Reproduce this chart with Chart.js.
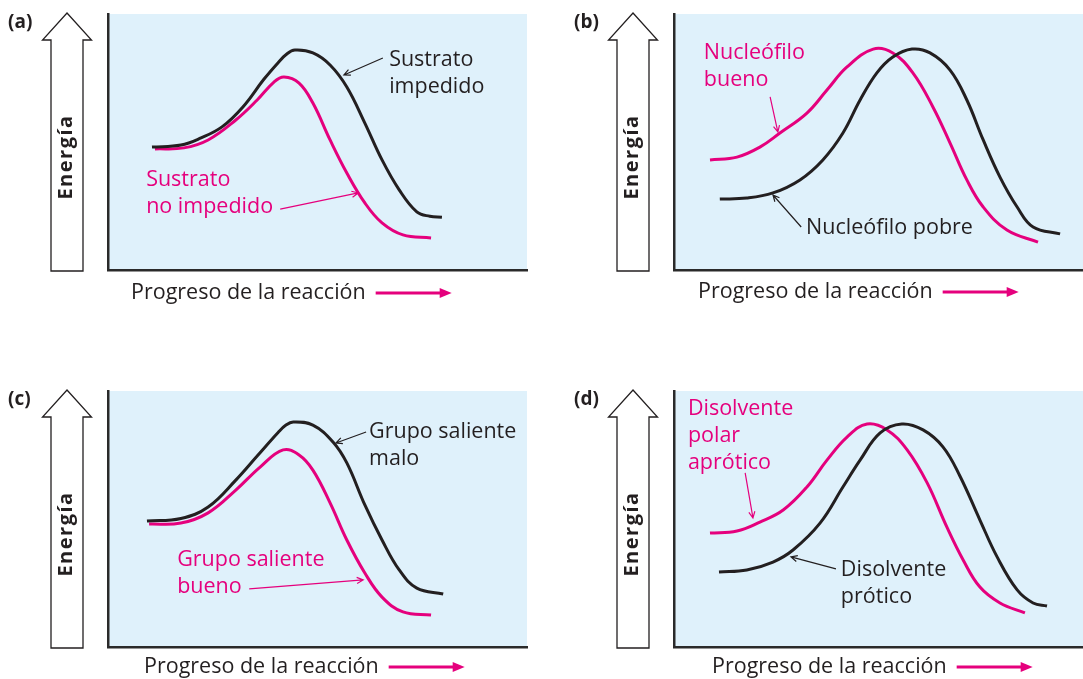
<!DOCTYPE html>
<html>
<head>
<meta charset="utf-8">
<script src="https://cdn.jsdelivr.net/npm/chart.js@4.4.1/dist/chart.umd.min.js"></script>
<style>
html, body { margin: 0; padding: 0; background: #fff; }
#wrap { position: relative; width: 1083px; height: 679px; }
.panel { position: absolute; }
</style>
</head>
<body>
<div id="wrap">
  <div class="panel" style="left:0;top:0;width:541px;height:339px"><canvas id="chartA"></canvas></div>
  <div class="panel" style="left:541px;top:0;width:542px;height:339px"><canvas id="chartB"></canvas></div>
  <div class="panel" style="left:0;top:339px;width:541px;height:340px"><canvas id="chartC"></canvas></div>
  <div class="panel" style="left:541px;top:339px;width:542px;height:340px"><canvas id="chartD"></canvas></div>
</div>
<script>
// reaction progress (0-100) and energy (0-100)
const progA_hindered   = [10.5, 17.4, 22.2, 27.2, 32.2, 37.2, 40.6, 42.6, 44.6, 48.9, 53.0, 57.0, 61.3, 65.4, 69.5, 73.7, 76.8, 79.7];
const energyA_hindered = [48.0, 48.8, 51.6, 55.9, 63.7, 74.5, 81.0, 84.3, 85.9, 84.8, 80.1, 71.5, 57.4, 43.0, 31.3, 22.7, 21.0, 20.6];
const progA_free   = [11.2, 18.1, 23.9, 30.5, 35.6, 39.6, 42.0, 45.6, 48.9, 53.0, 57.0, 61.3, 65.4, 70.4, 77.1];
const energyA_free = [47.3, 47.7, 50.8, 58.6, 66.4, 73.4, 75.4, 73.0, 65.2, 50.8, 37.9, 26.2, 18.4, 13.7, 12.5];

const progB_poor   = [11.2, 17.8, 24.2, 30.8, 36.4, 41.3, 45.5, 49.6, 53.5, 58.2, 62.6, 67.5, 71.6, 75.6, 79.7, 83.9, 87.8, 94.4];
const energyB_poor = [27.7, 28.1, 30.1, 35.2, 43.0, 53.5, 66.4, 77.0, 83.2, 86.3, 84.8, 78.1, 66.4, 50.8, 36.3, 24.6, 16.8, 14.1];
const progB_good   = [8.8, 15.4, 21.0, 25.9, 32.5, 37.4, 42.3, 48.7, 53.5, 58.4, 63.3, 67.5, 71.6, 75.6, 81.4, 89.0];
const energyB_good = [43.0, 44.1, 48.0, 53.5, 61.3, 70.3, 79.3, 86.3, 84.8, 77.0, 63.7, 49.6, 35.2, 24.6, 15.6, 10.9];

const progC_bad   = [9.3, 17.4, 23.9, 30.5, 35.6, 40.6, 42.4, 44.2, 48.9, 53.7, 57.0, 61.3, 65.4, 69.5, 73.7, 80.0];
const energyC_bad = [49.2, 50.2, 54.7, 65.2, 74.6, 83.8, 86.6, 87.9, 86.7, 80.1, 71.9, 55.5, 41.8, 30.1, 23.0, 20.7];
const progC_good   = [9.8, 17.4, 23.9, 30.5, 36.3, 41.8, 45.6, 48.9, 53.0, 57.0, 61.3, 65.4, 70.4, 77.1];
const energyC_good = [48.0, 48.4, 52.4, 61.3, 70.3, 77.0, 75.0, 69.1, 56.3, 41.8, 28.9, 19.5, 13.7, 12.5];

const progD_protic   = [11.0, 17.8, 24.2, 29.1, 35.7, 41.3, 45.5, 50.4, 55.7, 60.9, 65.8, 69.9, 74.8, 79.0, 83.9, 87.8, 91.2];
const energyD_protic = [29.3, 30.1, 33.2, 37.9, 48.4, 62.5, 73.0, 83.6, 87.1, 84.8, 78.1, 66.8, 49.6, 35.2, 22.3, 17.2, 16.0];
const progD_aprotic   = [8.8, 15.4, 21.0, 26.7, 32.5, 37.4, 42.3, 47.2, 52.1, 57.0, 61.9, 66.7, 70.7, 74.8, 79.7, 85.8];
const energyD_aprotic = [44.5, 45.3, 48.8, 53.5, 62.5, 73.0, 82.0, 87.1, 84.8, 77.0, 64.1, 46.9, 34.0, 23.4, 17.2, 13.3];

const panelLetters = ['(a)', '(b)', '(c)', '(d)'];
const axisXTitle = 'Progreso de la reacción';
const axisYTitle = 'Energía';

const BLACK = '#231f20';
const MAGENTA = '#e5007d';
const FONT = '"Open Sans", "Liberation Sans", sans-serif';

const toPoints = (xs, ys) => xs.map((x, i) => ({ x: x, y: ys[i] }));

function openArrow(ctx, x0, y0, x1, y1, color) {
    const a = Math.atan2(y1 - y0, x1 - x0);
    ctx.save();
    ctx.strokeStyle = color;
    ctx.lineWidth = 1.2;
    ctx.beginPath();
    ctx.moveTo(x0, y0);
    ctx.lineTo(x1, y1);
    ctx.moveTo(x1 - 7 * Math.cos(a - 0.45), y1 - 7 * Math.sin(a - 0.45));
    ctx.lineTo(x1, y1);
    ctx.lineTo(x1 - 7 * Math.cos(a + 0.45), y1 - 7 * Math.sin(a + 0.45));
    ctx.stroke();
    ctx.restore();
}

const panelDeco = {
    id: 'panelDeco',
    beforeDraw(chart) {
        const { ctx, chartArea: ca } = chart;
        ctx.save();
        ctx.fillStyle = '#dff1fb';
        ctx.fillRect(ca.left, ca.top, ca.right - ca.left, ca.bottom - ca.top);
        ctx.restore();
    },
    afterDraw(chart) {
        const o = chart.options.plugins.panelDeco;
        const { ctx, chartArea: ca, scales } = chart;
        ctx.save();

        // panel letter
        ctx.fillStyle = BLACK;
        ctx.font = 'bold 19px ' + FONT;
        ctx.textBaseline = 'middle';
        ctx.textAlign = 'left';
        ctx.fillText(o.letter, ca.left - 100, ca.top + 9);

        // hollow energy arrow
        const cx = ca.left - 41;
        const top = ca.top - 1, base = ca.top + 26, bot = ca.bottom + 1;
        ctx.beginPath();
        ctx.moveTo(cx, top);
        ctx.lineTo(cx + 24.5, base);
        ctx.lineTo(cx + 16, base);
        ctx.lineTo(cx + 16, bot);
        ctx.lineTo(cx - 16, bot);
        ctx.lineTo(cx - 16, base);
        ctx.lineTo(cx - 24.5, base);
        ctx.closePath();
        ctx.fillStyle = '#fff';
        ctx.fill();
        ctx.strokeStyle = BLACK;
        ctx.lineWidth = 1.3;
        ctx.stroke();

        // Energía
        ctx.save();
        ctx.translate(cx - 1, ca.top + 143);
        ctx.rotate(-Math.PI / 2);
        ctx.font = 'bold 20px ' + FONT;
        ctx.letterSpacing = '1.5px';
        ctx.textAlign = 'center';
        ctx.fillStyle = BLACK;
        ctx.fillText(axisYTitle, 0, 0);
        ctx.restore();

        // x title with magenta arrow
        ctx.font = '21.5px ' + FONT;
        ctx.fillStyle = BLACK;
        ctx.textAlign = 'left';
        const tx = ca.left + o.titleDx, ty = ca.bottom + o.titleDy;
        ctx.fillText(axisXTitle, tx, ty);
        const ax0 = tx + ctx.measureText(axisXTitle).width + 10, ax1 = ax0 + 76;
        ctx.strokeStyle = MAGENTA;
        ctx.lineWidth = 3;
        ctx.beginPath();
        ctx.moveTo(ax0, ty);
        ctx.lineTo(ax1 - 8, ty);
        ctx.stroke();
        ctx.fillStyle = MAGENTA;
        ctx.beginPath();
        ctx.moveTo(ax1, ty);
        ctx.lineTo(ax1 - 12, ty - 5);
        ctx.lineTo(ax1 - 12, ty + 5);
        ctx.closePath();
        ctx.fill();

        // curve labels
        const px = v => scales.x.getPixelForValue(v);
        const py = v => scales.y.getPixelForValue(v);
        o.notes.forEach(n => {
            ctx.font = '21.5px ' + FONT;
            ctx.fillStyle = n.color;
            ctx.textAlign = 'left';
            ctx.textBaseline = 'middle';
            n.lines.forEach((line, i) => ctx.fillText(line, px(n.x), py(n.y) + i * 27));
            openArrow(ctx, px(n.from[0]), py(n.from[1]), px(n.to[0]), py(n.to[1]), n.color);
        });
        ctx.restore();
    }
};

function makePanel(id, letter, blackPts, magentaPts, pad, titleDx, titleDy, notes) {
    const axis = {
        type: 'linear', min: 0, max: 100,
        grid: { display: false, drawTicks: false },
        ticks: { display: false },
        border: { display: true, color: '#2a2a2a', width: 2.5 }
    };
    return new Chart(document.getElementById(id), {
        type: 'line',
        data: {
            datasets: [
                { data: blackPts, borderColor: BLACK, borderWidth: 3, pointRadius: 0, tension: 0.4, fill: false },
                { data: magentaPts, borderColor: MAGENTA, borderWidth: 3, pointRadius: 0, tension: 0.4, fill: false }
            ]
        },
        options: {
            responsive: true,
            maintainAspectRatio: false,
            animation: false,
            layout: { padding: pad },
            scales: { x: axis, y: Object.assign({}, axis) },
            plugins: {
                legend: { display: false },
                tooltip: { enabled: false },
                panelDeco: { letter: letter, titleDx: titleDx, titleDy: titleDy, notes: notes }
            }
        },
        plugins: [panelDeco]
    });
}

makePanel('chartA', panelLetters[0],
    toPoints(progA_hindered, energyA_hindered), toPoints(progA_free, energyA_free),
    { left: 108, top: 14, right: 14, bottom: 69 }, 23, 23, [
        { lines: ['Sustrato', 'impedido'], x: 67.1, y: 82.0, from: [65.6, 82.8], to: [56.3, 76.2], color: BLACK },
        { lines: ['Sustrato', 'no impedido'], x: 9.1, y: 35.2, from: [41.1, 23.8], to: [59.7, 30.1], color: MAGENTA }
    ]);

makePanel('chartB', panelLetters[1],
    toPoints(progB_poor, energyB_poor), toPoints(progB_good, energyB_good),
    { left: 133, top: 14, right: 0, bottom: 69 }, 24, 22, [
        { lines: ['Nucleófilo', 'bueno'], x: 7.3, y: 84.8, from: [23.5, 67.6], to: [25.4, 53.9], color: MAGENTA },
        { lines: ['Nucleófilo pobre'], x: 32.3, y: 16.4, from: [31.1, 16.8], to: [24.2, 29.3], color: BLACK }
    ]);

makePanel('chartC', panelLetters[2],
    toPoints(progC_bad, energyC_bad), toPoints(progC_good, energyC_good),
    { left: 108, top: 52, right: 14, bottom: 32 }, 36, 20, [
        { lines: ['Grupo saliente', 'malo'], x: 62.3, y: 84.0, from: [61.6, 84.0], to: [54.4, 79.7], color: BLACK },
        { lines: ['Grupo saliente', 'bueno'], x: 16.5, y: 34.0, from: [33.7, 22.7], to: [60.9, 26.2], color: MAGENTA }
    ]);

makePanel('chartD', panelLetters[3],
    toPoints(progD_protic, energyD_protic), toPoints(progD_aprotic, energyD_aprotic),
    { left: 133, top: 52, right: 0, bottom: 32 }, 38, 20, [
        { lines: ['Disolvente', 'polar', 'aprótico'], x: 3.4, y: 93.0, from: [17.4, 68.0], to: [19.3, 50.4], color: MAGENTA },
        { lines: ['Disolvente', 'prótico'], x: 40.8, y: 30.1, from: [39.6, 30.5], to: [28.6, 35.2], color: BLACK }
    ]);
</script>
</body>
</html>
